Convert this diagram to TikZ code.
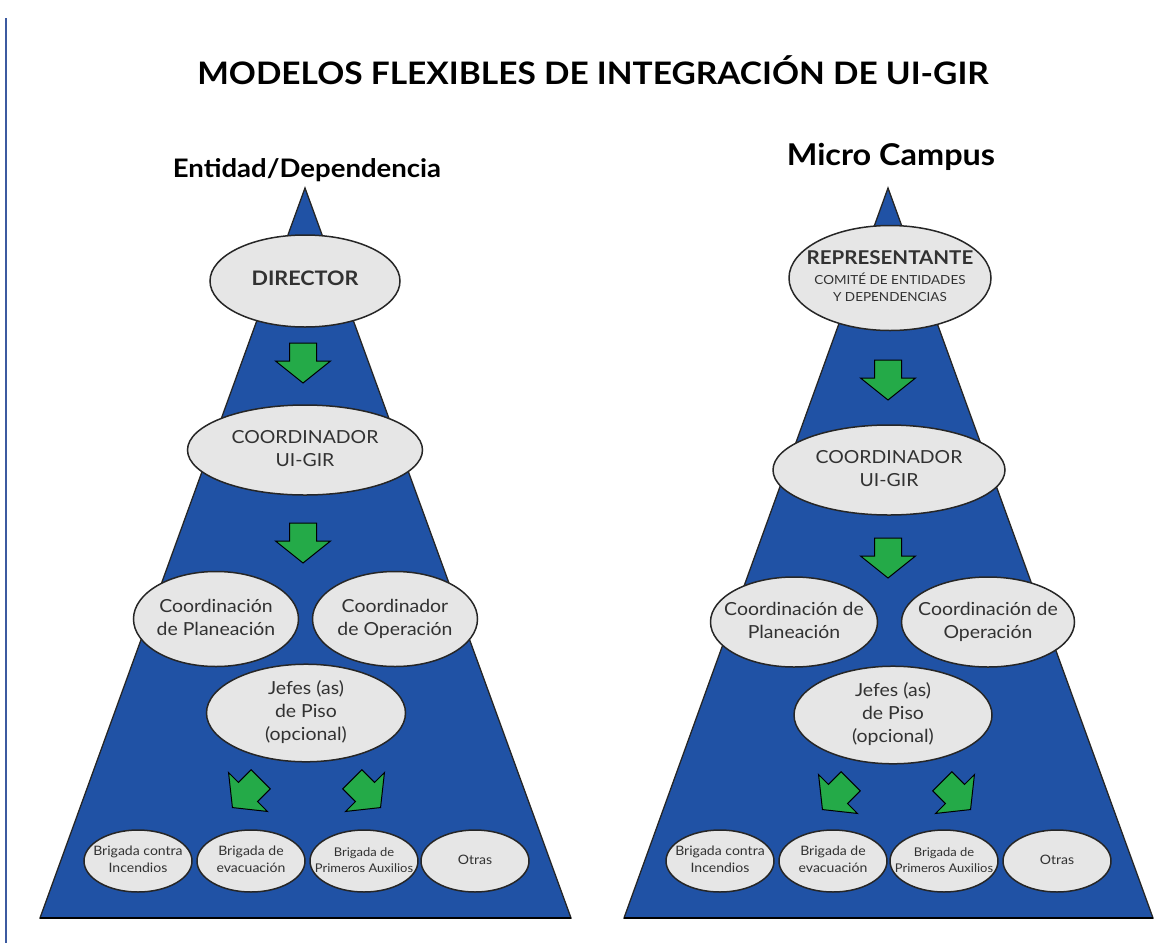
\documentclass[tikz,border=0pt]{standalone}
\usepackage{fontspec}
\setmainfont{Lato}[FakeStretch=1.08]
\usetikzlibrary{shapes.geometric}

\definecolor{azulpir}{RGB}{32,82,165}
\definecolor{globo}{RGB}{230,230,230}
\definecolor{verdef}{RGB}{36,170,72}
\definecolor{gristxt}{RGB}{50,50,50}
\definecolor{margen}{RGB}{60,90,160}

% texto centrado que no ensancha la elipse
\newcommand{\lineas}[1]{\makebox[0pt]{\begin{tabular}{@{}c@{}}#1\end{tabular}}}

\tikzset{
  titulo/.style={font=\fontsize{31}{35}\selectfont\bfseries, text=black},
  subtitulo/.style={font=\fontsize{25.5}{29}\selectfont\bfseries, text=black},
  piramide/.style={fill=azulpir, draw=black!85, line width=1.3pt, line join=miter},
  puesto/.style={ellipse, draw=black!85, line width=1.5pt, fill=globo, inner sep=0pt,
    text=gristxt, font=\fontsize{18}{23}\selectfont},
  brigada/.style={puesto, minimum width=108pt, minimum height=62pt,
    font=\fontsize{13}{17}\selectfont},
  flechaverde/.pic={
    \filldraw[verdef, draw=black, line width=1pt, line join=miter]
      (-13.5,-18) -- (13.5,-18) -- (13.5,0) -- (27.5,0) -- (0,22)
      -- (-27.5,0) -- (-13.5,0) -- cycle;}
}

\begin{document}
\begin{tikzpicture}[x=1pt,y=-1pt]
\useasboundingbox (0,0) rectangle (1170,943);
\draw[margen, line width=2pt] (6,18) -- (6,943);

% Titles
\node[titulo] (titulo) at (593,70) {MODELOS FLEXIBLES DE INTEGRACIÓN DE UI-GIR};
\node[subtitulo] (entidad) at (307,170) {Entidad/Dependencia};
\node[subtitulo, font=\fontsize{30}{34}\selectfont\bfseries] (micro) at (891,157) {Micro Campus};

% Pyramids
\filldraw[piramide] (305,188) -- (571,918) -- (40,918) -- cycle;
\draw[line width=2.5pt] (40,918) -- (571,918);
\filldraw[piramide] (888,188) -- (1153,918) -- (624,918) -- cycle;
\draw[line width=2.5pt] (624,918) -- (1153,918);

% Entidad/Dependencia
\node[puesto, minimum width=190pt, minimum height=92pt, font=\fontsize{20}{24}\selectfont\bfseries] (directorL) at (305,281) {\lineas{DIRECTOR}};
\node[puesto, minimum width=235pt, minimum height=90pt] (coordL) at (305,450) {\lineas{COORDINADOR\\UI-GIR}};
\node[puesto, minimum width=165pt, minimum height=95pt] (planL) at (216,619) {\lineas{Coordinación\\de Planeación}};
\node[puesto, minimum width=165pt, minimum height=95pt] (operL) at (395,619) {\lineas{Coordinador\\de Operación}};
\node[puesto, minimum width=199pt, minimum height=93pt] (jefesL) at (306,713) {\lineas{Jefes (as)\\de Piso\\(opcional)}};

\node[brigada] (incL) at (138,861) {\lineas{Brigada contra\\Incendios}};
\node[brigada] (evaL) at (251,861) {\lineas{Brigada de\\evacuación}};
\node[brigada, font=\fontsize{12}{16}\selectfont] (auxL) at (364,861) {\lineas{Brigada de\\Primeros Auxilios}};
\node[brigada] (otrL) at (475,861) {\lineas{Otras}};

\pic at (303,361) {flechaverde};
\pic at (303,541) {flechaverde};
\pic[rotate=-45] at (248,792) {flechaverde};
\pic[rotate=45] at (365,792) {flechaverde};

% Micro Campus
\node[puesto, minimum width=202pt, minimum height=105pt] (repR) at (890,278)
  {\lineas{{\fontsize{19}{21}\selectfont\bfseries REPRESENTANTE}\\[-3pt]
   {\fontsize{12.5}{15}\selectfont COMITÉ DE ENTIDADES}\\[-6pt]
   {\fontsize{12.5}{15}\selectfont Y DEPENDENCIAS}}};
\node[puesto, minimum width=232pt, minimum height=90pt] (coordR) at (889,470) {\lineas{COORDINADOR\\UI-GIR}};
\node[puesto, minimum width=167pt, minimum height=90pt] (planR) at (794,622) {\lineas{Coordinación de\\Planeación}};
\node[puesto, minimum width=173pt, minimum height=90pt] (operR) at (988,622) {\lineas{Coordinación de\\Operación}};
\node[puesto, minimum width=198pt, minimum height=95pt] (jefesR) at (893,715) {\lineas{Jefes (as)\\de Piso\\(opcional)}};

\node[brigada] (incR) at (720,861) {\lineas{Brigada contra\\Incendios}};
\node[brigada] (evaR) at (833,861) {\lineas{Brigada de\\evacuación}};
\node[brigada, font=\fontsize{12}{16}\selectfont] (auxR) at (944,861) {\lineas{Brigada de\\Primeros Auxilios}};
\node[brigada] (otrR) at (1057,861) {\lineas{Otras}};

\pic at (888,378) {flechaverde};
\pic at (888,556) {flechaverde};
\pic[rotate=-45] at (838,794) {flechaverde};
\pic[rotate=45] at (955,794) {flechaverde};
\end{tikzpicture}
\end{document}
